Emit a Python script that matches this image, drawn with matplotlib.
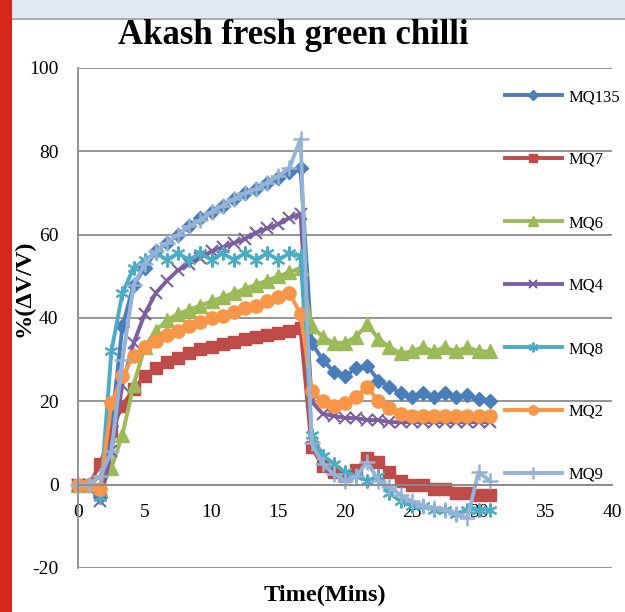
import matplotlib
matplotlib.use("Agg")
import matplotlib.pyplot as plt
from matplotlib.patches import Rectangle
from matplotlib.font_manager import FontProperties

plt.rcParams["axes.unicode_minus"] = False

# Sampling times (minutes)
time_min = [0, 0.83, 1.67, 2.5, 3.33, 4.17, 5, 5.83, 6.67, 7.5, 8.33, 9.17,
            10, 10.83, 11.67, 12.5, 13.33, 14.17, 15, 15.83, 16.67, 17.5,
            18.33, 19.17, 20, 20.83, 21.67, 22.5, 23.33, 24.17, 25, 25.83,
            26.67, 27.5, 28.33, 29.17, 30, 30.83]

# Sensor responses %(dV/V)
mq135 = [0, 0, -3, 14, 38, 48, 52, 56, 58, 60, 62, 64, 65.5, 67, 68.5, 70, 71,
         72.5, 73.5, 75, 76, 34, 30, 27, 26, 28, 28.5, 25, 23.5, 22, 21, 22,
         21, 22, 21, 21.5, 20.5, 20]
mq7 = [0, 0, 5, 13, 19, 23, 26, 28, 29.5, 30.5, 31.5, 32.5, 33, 33.7, 34.3, 35,
       35.5, 36, 36.5, 37, 37.5, 9, 4.5, 3, 2, 3.5, 6.5, 5.5, 3, 1, 0, 0, -1,
       -1, -2, -2, -2.5, -2.5]
mq6 = [0, 0, -1, 4, 12, 24, 33, 37, 39.5, 41, 42, 43, 44, 45, 46, 47, 48, 49,
       50, 51, 52, 38, 35.5, 34, 34, 35.5, 38.5, 35, 33, 31.5, 32, 33, 32, 33,
       32, 33, 32, 32]
mq4 = [0, 0, -4, 8, 24, 34, 41, 46, 49, 51.5, 53, 54.5, 56, 57, 58, 59, 60.5,
       61.5, 62.5, 64, 65, 20, 17, 16.5, 16, 16, 15.5, 15.5, 15, 15, 15, 15,
       15, 15, 15, 15, 15, 15]
mq8 = [0, 0, -3, 32, 46, 52, 54, 55.5, 54, 55.5, 54, 55.5, 54, 55.5, 54, 55.5,
       54, 55.5, 54, 55.5, 55, 12, 7, 5, 3, 2, 1, 2, -2, -4, -5, -5, -6, -6,
       -7, -6, -6, -6]
mq2 = [0, 0, -1, 19.5, 26, 31, 33, 34.5, 36, 37, 38, 39, 40, 40.5, 41.5, 42.5,
       43, 44, 45, 46, 41, 22.5, 20, 19, 19.5, 21, 23.5, 20, 18.5, 17, 16.5,
       16.5, 16.5, 16.5, 16.5, 16.5, 16.5, 16.5]
mq9 = [0, 0, 2, 8, 30, 48, 53, 56, 58, 60, 62, 63.5, 65.5, 67, 68.5, 70, 71,
       72.5, 74, 76, 83, 10, 5, 2.5, 1, 2, 5.5, 1, -0.5, -2.5, -4, -5, -5.5,
       -6, -7, -8, 3, 1]

series = [
    ("MQ135", mq135, "#4a7ebb", "D", 7.5, 1.0),
    ("MQ7", mq7, "#be4b48", "s", 8.5, 1.0),
    ("MQ6", mq6, "#9bbb59", "^", 9.5, 1.0),
    ("MQ4", mq4, "#7d5fa0", "x", 8.5, 1.5),
    ("MQ8", mq8, "#4bacc6", (6, 2, 0), 10, 1.5),
    ("MQ2", mq2, "#f79646", "o", 9.5, 1.0),
    ("MQ9", mq9, "#95b3d7", "+", 12, 1.8),
]

serif = "Liberation Serif"
grid_col = "#8c8c8c"

fig = plt.figure(figsize=(6.25, 6.12), dpi=100)

# page decoration: red margin bar and light header band
fig.patches.append(Rectangle((0, 0), 12 / 625, 1, transform=fig.transFigure,
                             facecolor="#d4261a", edgecolor="none", zorder=0))
fig.patches.append(Rectangle((12 / 625, 1 - 18 / 612), 1, 18 / 612,
                             transform=fig.transFigure, facecolor="#e3e9f1",
                             edgecolor="none", zorder=0))
fig.patches.append(Rectangle((12 / 625, 1 - 20 / 612), 1, 2 / 612,
                             transform=fig.transFigure, facecolor="#a9adb2",
                             edgecolor="none", zorder=0))

ax = fig.add_axes([78 / 625, 1 - 568 / 612, 534 / 625, 500 / 612])

for name, vals, col, mk, ms, mew in series:
    ax.plot(time_min, vals, color=col, lw=2.8, marker=mk, markersize=ms,
            markerfacecolor=col, markeredgecolor=col, markeredgewidth=mew,
            label=name, clip_on=False)

ax.set_xlim(0, 40)
ax.set_ylim(-20, 100)
ax.set_xticks(range(0, 41, 5))
ax.set_yticks(range(-20, 101, 20))

ax.yaxis.grid(True, color=grid_col, lw=1.3)
ax.set_axisbelow(True)
for s in ("top", "right"):
    ax.spines[s].set_visible(False)
ax.spines["left"].set_color(grid_col)
ax.spines["left"].set_linewidth(1.3)
ax.spines["bottom"].set_position(("data", 0))
ax.spines["bottom"].set_color(grid_col)
ax.spines["bottom"].set_linewidth(1.3)

ax.tick_params(axis="both", length=0, labelsize=14)
ax.tick_params(axis="x", pad=14)
ax.tick_params(axis="y", pad=14)
for lab in ax.get_xticklabels() + ax.get_yticklabels():
    lab.set_fontfamily(serif)

ax.set_xlabel("Time(Mins)", fontsize=17.5, fontweight="bold", family=serif)
ax.xaxis.set_label_coords((325 - 78) / 534, (568 - 585) / 500)
ax.set_ylabel("%(ΔV/V)", fontsize=17.5, fontweight="bold", family=serif)
ax.yaxis.set_label_coords((35 - 78) / 534, (568 - 288) / 500)

fig.text(293 / 625, 1 - 36 / 612, "Akash fresh green chilli", ha="center",
         va="center", fontsize=25, fontweight="bold", family=serif)

ax.legend(loc="upper left", bbox_to_anchor=(505 / 625, 1 - 89 / 612),
          bbox_transform=fig.transFigure, frameon=False,
          prop=FontProperties(family=serif, size=12), labelspacing=2.82,
          handlelength=3.4, handletextpad=0.4, borderpad=0, borderaxespad=0,
          markerscale=0.7, numpoints=1)

fig.savefig("out.png", dpi=100)
